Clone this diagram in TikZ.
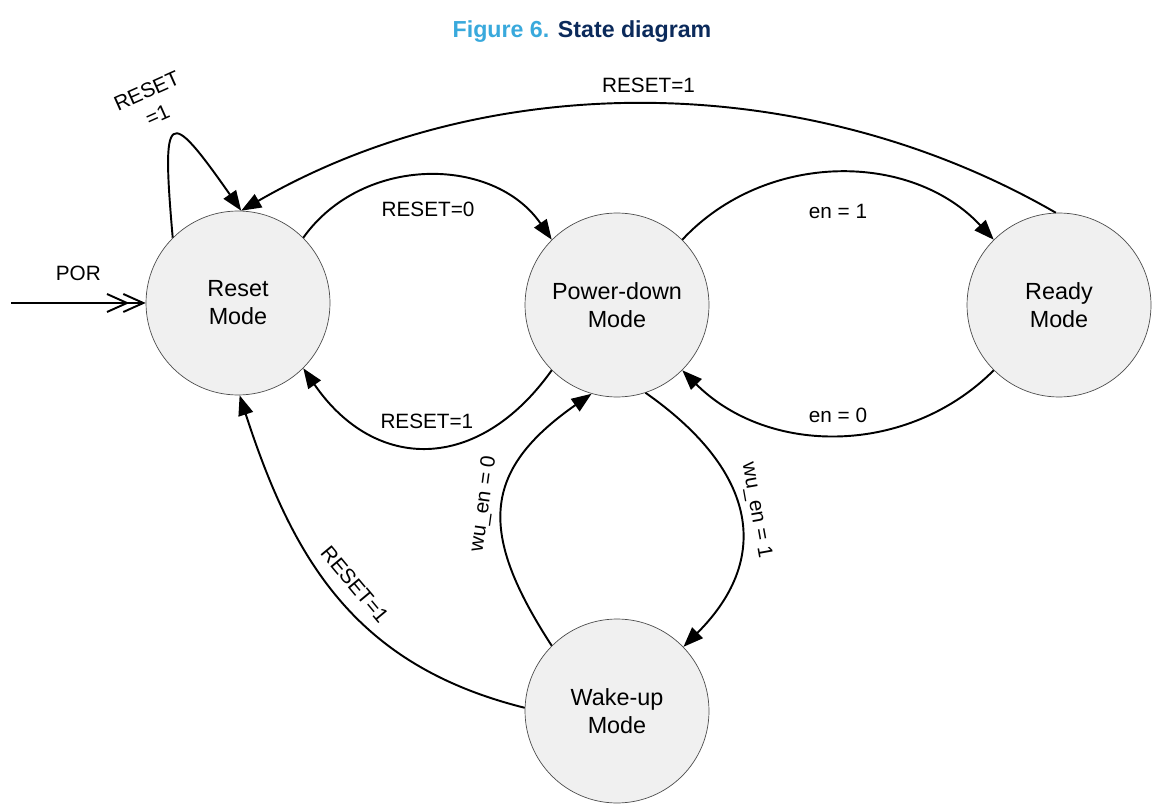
\documentclass[tikz,border=0pt]{standalone}
\usepackage{fontspec}
\setmainfont{Liberation Sans}
\usepackage{xcolor}
\usetikzlibrary{arrows.meta, positioning}
\definecolor{figblue}{HTML}{39A9DC}
\definecolor{fignavy}{HTML}{0B2A5B}
\definecolor{statefill}{HTML}{F0F0F0}

\begin{document}
\begin{tikzpicture}[x=0.02cm, y=0.02cm]
\tikzstyle{state} = [circle, minimum size=3.68cm, inner sep=0pt, align=center, draw=black!70, line width=0.4pt, fill=statefill, font=\fontsize{13.3}{16}\selectfont]
\tikzstyle{trans} = [line width=1.1pt, -{Triangle[length=4mm, width=3mm]}]
\tikzstyle{lbl} = [font=\fontsize{11.8}{15}\selectfont, inner sep=1pt]

\useasboundingbox (0,0) rectangle (1162,-810);

\node[font=\bfseries\fontsize{13.2}{16}\selectfont] (title) at (582,-32) {\textcolor{figblue}{Figure 6.} \textcolor{fignavy}{State diagram}};

\node[state] (reset) at (238,-303) {Reset\\Mode};
\node[state] (pdown) at (617,-305) {Power-down\\Mode};
\node[state] (ready) at (1059,-305) {Ready\\Mode};
\node[state] (wakeup) at (617,-711) {Wake-up\\Mode};
\coordinate (por) at (11,-303);

\draw[line width=1.1pt, -{Straight Barb[length=4mm, width=3.6mm, sep=-1.4mm] Straight Barb[length=4mm, width=3.6mm]}] (por) -- node[lbl, above=11pt] (lpor) {POR} (reset);

\draw[trans] (reset.135) to[out=95, in=125, looseness=4.5] (reset.88);
\node[lbl, rotate=24, align=center] (lloop) at (152,-103) {RESET\\=1};

\draw[trans] (ready.92) to[out=150, in=30, looseness=0.9] node[lbl, above=5pt] (ltop) {RESET=1} (reset.88);
\draw[trans] (reset.45) to[bend left=55, looseness=1.05] node[lbl, below=13pt] (lres0) {RESET=0} (pdown.135);
\draw[trans] (pdown.225) to[bend left=55, looseness=1.3] node[lbl, above=9pt] (lres1) {RESET=1} (reset.-45);
\draw[trans] (pdown.45) to[bend left=47] node[lbl, below=16pt] (len1) {en = 1} (ready.135);
\draw[trans] (ready.225) to[bend left=45] node[lbl, above=5pt] (len0) {en = 0} (pdown.-45);
\draw[trans] (pdown.-72) to[out=-35, in=45, looseness=1.3] node[lbl, sloped, above=3pt] (lwu1) {wu\_en = 1} (wakeup.44);
\draw[trans] (wakeup.135) to[out=123, in=-145, looseness=1.35] node[lbl, sloped, above=4pt] (lwu0) {wu\_en = 0} (pdown.-106);
\draw[trans] (wakeup.178) to[out=166, in=-72, looseness=1.05] node[lbl, sloped, above=6pt] (lwake) {RESET=1} (reset.-89);
\end{tikzpicture}
\end{document}
